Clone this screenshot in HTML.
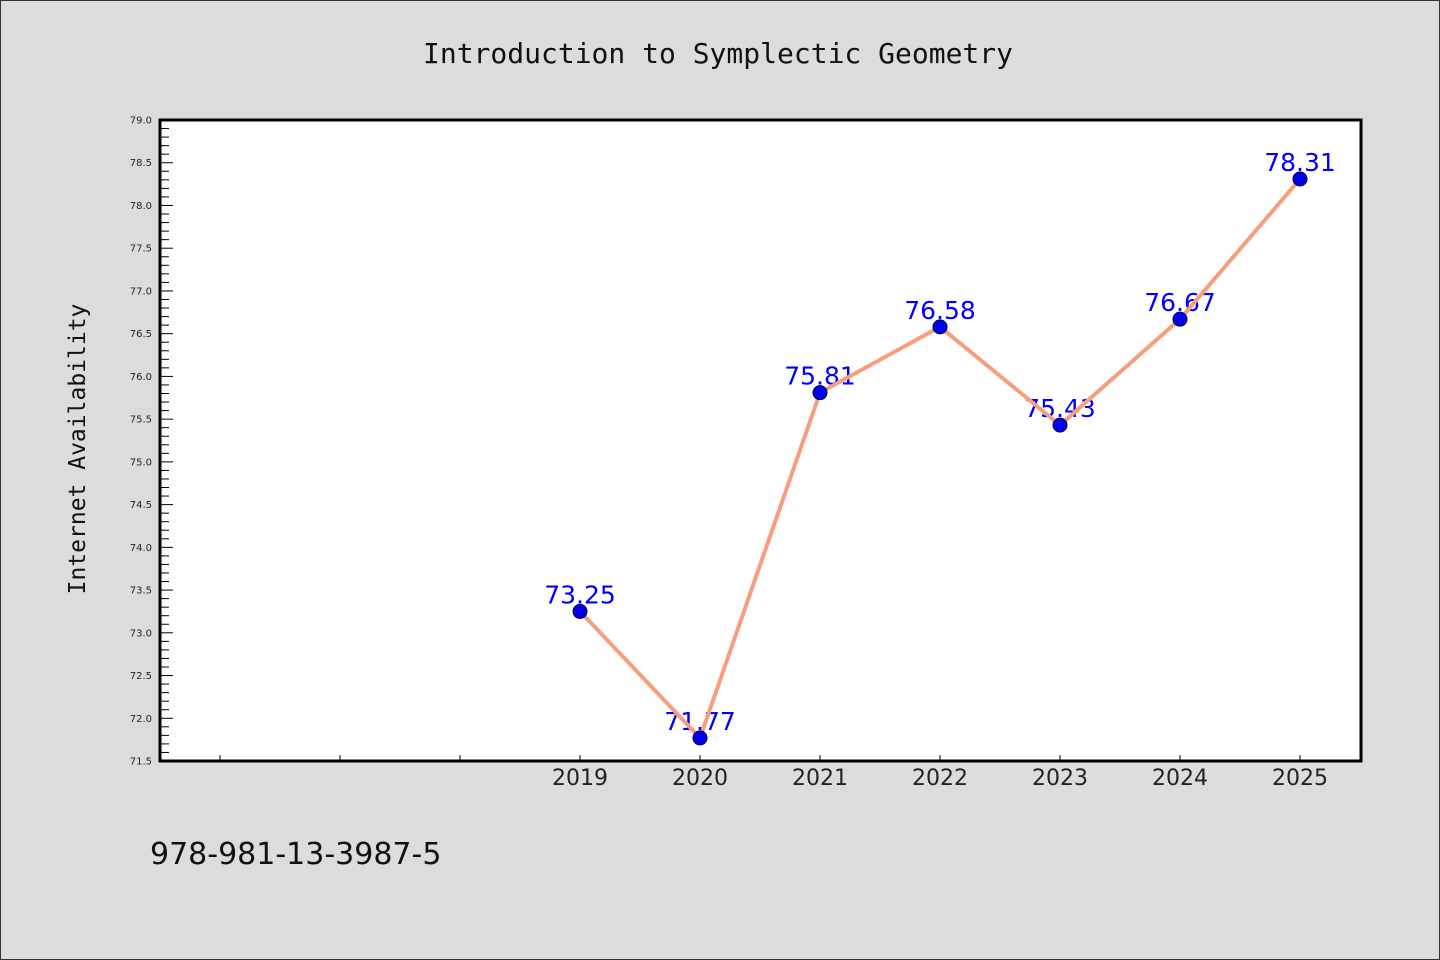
<!DOCTYPE html>
<html><head><meta charset="utf-8"><style>
body{margin:0;background:#dcdcdc}
svg{display:block}
</style></head><body>
<svg width="1440" height="960" xmlns="http://www.w3.org/2000/svg" id="chart">
<rect x="0.5" y="0.5" width="1439" height="959" fill="#dcdcdc" stroke="#333" stroke-width="1"/>
<text x="718" y="63" text-anchor="middle" font-family="DejaVu Sans Mono, monospace" font-size="28" fill="#111">Introduction to Symplectic Geometry</text>
<text transform="translate(85,449) rotate(-90)" text-anchor="middle" font-family="DejaVu Sans Mono, monospace" font-size="23" fill="#111">Internet Availability</text>
<text x="150" y="864" font-family="DejaVu Sans, sans-serif" font-size="30" fill="#111">978-981-13-3987-5</text>
<rect x="160" y="120" width="1201" height="641" fill="#fff" stroke="#000" stroke-width="3"/>
<g id="axes"></g>
<g id="marks"></g>
</svg>
<script>
const years=[2019,2020,2021,2022,2023,2024,2025];
const values=[73.25,71.77,75.81,76.58,75.43,76.67,78.31];
const labels=["73.25","71.77","75.81","76.58","75.43","76.67","78.31"];
const yMin=71.5,yMax=79.0;
const xMin=2015.5,xMax=2025.5;
const L=160,R=1360,T=120,B=761;
const NS="http://www.w3.org/2000/svg";
const X=v=>L+(v-xMin)/(xMax-xMin)*(R-L);
const Y=v=>B-(v-yMin)/(yMax-yMin)*(B-T);
function mk(t,a,p){const e=document.createElementNS(NS,t);for(const k in a)e.setAttribute(k,a[k]);p.appendChild(e);return e;}
const axes=document.getElementById('axes'),marks=document.getElementById('marks');
for(let i=0;i<=75;i++){
  const v=yMin+i*0.1,y=Y(v),major=i%5===0;
  const t=mk('line',{x1:L,x2:L+(major?13:9),y1:y,y2:y,stroke:'#000','stroke-width':1},axes);
  
  
  if(major){
    const tx=mk('text',{x:152,y:y+3.5,'text-anchor':'end','font-family':'DejaVu Sans, sans-serif','font-size':10,fill:'#222'},axes);
    tx.textContent=v.toFixed(1);
    
    
  }
}
for(let yr=2016;yr<=2025;yr++){
  const x=X(yr);
  const t=mk('line',{x1:x,x2:x,y1:B,y2:B-6,stroke:'#000','stroke-width':1},axes);
  
  
}
years.forEach(yr=>{
  const tx=mk('text',{x:X(yr),y:B+24,'text-anchor':'middle','font-family':'DejaVu Sans, sans-serif','font-size':22,fill:'#222'},axes);
  tx.textContent=yr;
  
  
});
values.forEach((v,i)=>{
  const tx=mk('text',{x:X(years[i]),y:Y(v)-8,'text-anchor':'middle','font-family':'DejaVu Sans, sans-serif','font-size':25,fill:'#0000ff'},marks);
  tx.textContent=labels[i];
  
  
});
const pl=mk('polyline',{points:values.map((v,i)=>X(years[i])+','+Y(v)).join(' '),fill:'none',stroke:'#f79e7e','stroke-width':4,'stroke-linejoin':'round'},marks);


values.forEach((v,i)=>{
  const c=mk('circle',{cx:X(years[i]),cy:Y(v),r:7,fill:'#0000ee',stroke:'#000033','stroke-width':1},marks);
  
  
});
</script>
</body></html>
